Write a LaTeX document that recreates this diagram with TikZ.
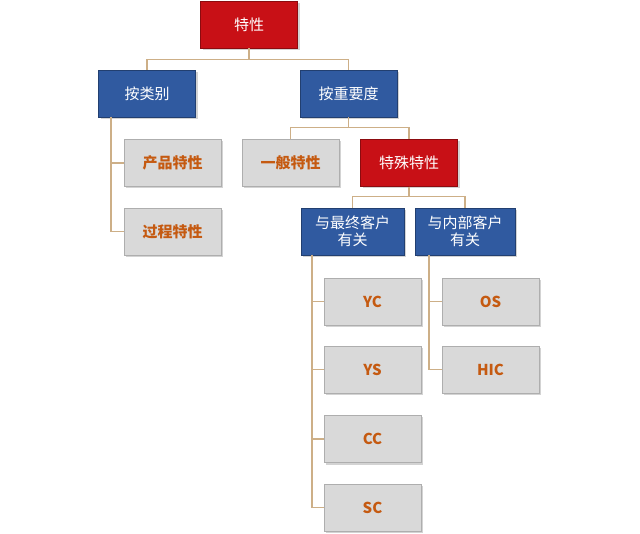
\documentclass[tikz,border=0pt]{standalone}
\usepackage{fontspec}
\setmainfont{Noto Sans CJK SC}
\usetikzlibrary{shadows}
\definecolor{rd}{RGB}{200,16,22}
\definecolor{bl}{RGB}{48,90,160}
\definecolor{gy}{RGB}{217,217,217}
\definecolor{og}{RGB}{197,90,17}
\definecolor{ln}{RGB}{205,175,135}
\tikzset{
 bx/.style={minimum width=97pt,minimum height=47pt,inner sep=1pt,align=center,font=\fontsize{15}{17}\selectfont,
   drop shadow={shadow xshift=2pt,shadow yshift=-2pt,opacity=0.35}},
 redbox/.style={bx,fill=rd,draw=rd!70!black,text=white},
 bluebox/.style={bx,fill=bl,draw=bl!70!black,text=white},
 graybox/.style={bx,fill=gy,draw=gy!80!black,text=og,font=\fontsize{15}{17}\selectfont\bfseries},
 cn/.style={draw=ln,line width=1.2pt}
}
\begin{document}
\begin{tikzpicture}[x=1pt,y=-1pt]
\useasboundingbox (0,0) rectangle (640,534);
\node[redbox] (t) at (249,24.5) {特性};
\node[bluebox] (a) at (147,93.5) {按类别};
\node[bluebox] (b) at (348.5,93.5) {按重要度};
\node[graybox] (a1) at (172.5,163) {产品特性};
\node[graybox] (a2) at (172.5,231.5) {过程特性};
\node[graybox] (b1) at (290.5,163) {一般特性};
\node[redbox] (b2) at (409,163) {特殊特性};
\node[bluebox,minimum width=103pt] (c1) at (352.5,231.5) {与最终客户\\有关};
\node[bluebox,minimum width=100pt] (c2) at (465,231.5) {与内部客户\\有关};
\node[graybox] (y1) at (372.5,301.5) {YC};
\node[graybox] (y2) at (372.5,369.5) {YS};
\node[graybox] (y3) at (372.5,439) {CC};
\node[graybox] (y4) at (372.5,507.5) {SC};
\node[graybox] (o1) at (490.5,301.5) {OS};
\node[graybox] (o2) at (490.5,369.5) {HIC};
\coordinate (pa) at (111,117);
\coordinate (pc1) at (312,255);
\coordinate (pc2) at (429,255);
\draw[cn] (t.south) -- ++(0,11) -| (a.north);
\draw[cn] (t.south) -- ++(0,11) -| (b.north);
\draw[cn] (pa) |- (a1.west);
\draw[cn] (pa) |- (a2.west);
\draw[cn] (b.south) -- ++(0,10) -| (b1.north);
\draw[cn] (b.south) -- ++(0,10) -| (b2.north);
\draw[cn] (b2.south) -- ++(0,10) -| (c1.north);
\draw[cn] (b2.south) -- ++(0,10) -| (c2.north);
\foreach \n in {y1,y2,y3,y4} \draw[cn] (pc1) |- (\n.west);
\foreach \n in {o1,o2} \draw[cn] (pc2) |- (\n.west);
\end{tikzpicture}
\end{document}
